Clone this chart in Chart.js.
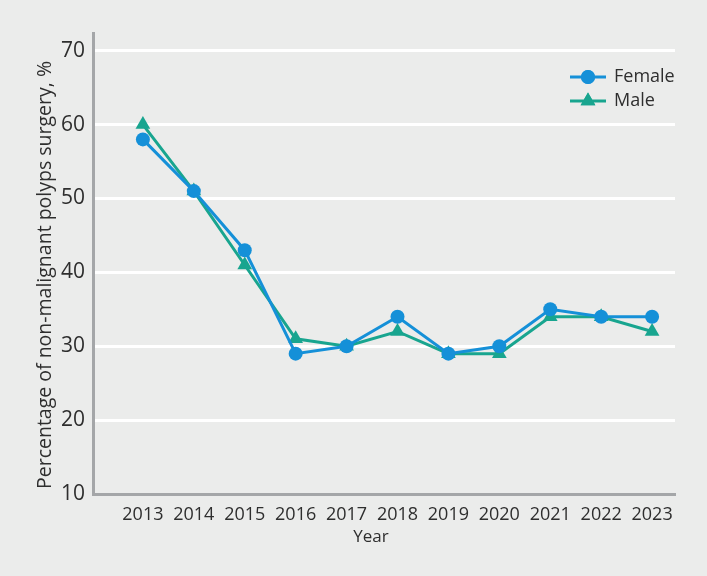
<!DOCTYPE html>
<html>
<head>
<meta charset="utf-8">
<script src="https://cdn.jsdelivr.net/npm/chart.js@4"></script>
<style>
  body { margin: 0; background: #ebeceb; }
  #wrap { width: 707px; height: 576px; position: relative; }
</style>
</head>
<body>
<div id="wrap"><canvas id="myChart"></canvas></div>
<script>
const years = [2013, 2014, 2015, 2016, 2017, 2018, 2019, 2020, 2021, 2022, 2023];
const female = [58, 51, 43, 29, 30, 34, 29, 30, 35, 34, 34];
const male = [60, 51, 41, 31, 30, 32, 29, 29, 34, 34, 32];
const yTicks = [10, 20, 30, 40, 50, 60, 70];
const xTitle = "Year";
const yTitle = "Percentage of non-malignant polyps surgery, %";

const blueColor = "#1590d8";
const tealColor = "#18a58f";
const axisColor = "#a4a6a8";
const textColor = "#2e2e2e";
const fontFamily = "'Open Sans', 'Noto Sans', sans-serif";

// legend drawn inside the plot, line + marker like the original
const insideLegend = {
  id: "insideLegend",
  afterDraw(chart) {
    const ctx = chart.ctx;
    const items = [
      { label: "Female", color: blueColor, style: "circle", y: 77 },
      { label: "Male", color: tealColor, style: "triangle", y: 101 },
    ];
    ctx.save();
    items.forEach((item) => {
      ctx.strokeStyle = item.color;
      ctx.lineWidth = 3;
      ctx.beginPath();
      ctx.moveTo(570, item.y);
      ctx.lineTo(606, item.y);
      ctx.stroke();
      ctx.fillStyle = item.color;
      Chart.helpers.drawPoint(ctx, {
        pointStyle: item.style,
        radius: item.style === "circle" ? 7 : 8.5,
        borderWidth: 0,
      }, 588, item.y);
      ctx.fill();
      ctx.fillStyle = textColor;
      ctx.font = "18px " + fontFamily;
      ctx.textBaseline = "middle";
      ctx.fillText(item.label, 614, item.y);
    });
    ctx.restore();
  },
};

// axis titles, placed where the original has them (not centred on the axes)
const axisTitles = {
  id: "axisTitles",
  afterDraw(chart) {
    const ctx = chart.ctx;
    ctx.save();
    ctx.fillStyle = textColor;
    ctx.textAlign = "center";
    ctx.textBaseline = "middle";
    ctx.font = "17px " + fontFamily;
    ctx.fillText(xTitle, 371, 537);
    ctx.translate(45, 275);
    ctx.rotate(-Math.PI / 2);
    ctx.font = "19.5px " + fontFamily;
    ctx.fillText(yTitle, 0, 0);
    ctx.restore();
  },
};

const ctx = document.getElementById("myChart");
new Chart(ctx, {
  type: "line",
  data: {
    datasets: [
      {
        label: "Female",
        data: years.map((y, i) => ({ x: y, y: female[i] })),
        borderColor: blueColor,
        backgroundColor: blueColor,
        borderWidth: 3,
        pointStyle: "circle",
        pointRadius: 7,
        pointBorderWidth: 0,
      },
      {
        label: "Male",
        data: years.map((y, i) => ({ x: y, y: male[i] })),
        borderColor: tealColor,
        backgroundColor: tealColor,
        borderWidth: 3,
        pointStyle: "triangle",
        pointRadius: 8.5,
        pointBorderWidth: 0,
      },
    ],
  },
  options: {
    responsive: true,
    maintainAspectRatio: false,
    animation: false,
    layout: { padding: { top: 33, right: 32, left: 0, bottom: 0 } },
    plugins: {
      legend: { display: false },
      tooltip: { enabled: false },
    },
    scales: {
      x: {
        type: "linear",
        min: 2012.02,
        max: 2023.45,
        afterBuildTicks: (scale) => {
          scale.ticks = years.map((v) => ({ value: v }));
        },
        afterFit: (scale) => {
          scale.height = 82;
        },
        ticks: {
          color: textColor,
          font: { family: fontFamily, size: 18 },
          padding: 10,
          maxRotation: 0,
          autoSkip: false,
          callback: (value) => String(value),
        },
        grid: { display: false, drawTicks: false },
        border: { color: axisColor, width: 3 },
      },
      y: {
        min: 10,
        max: 72.4,
        afterBuildTicks: (scale) => {
          scale.ticks = yTicks.map((v) => ({ value: v }));
        },
        afterFit: (scale) => {
          scale.width = 93;
        },
        ticks: {
          color: textColor,
          font: { family: fontFamily, size: 21 },
          padding: 8,
        },
        grid: { color: "#ffffff", lineWidth: 3, drawTicks: false },
        border: { color: axisColor, width: 3 },
      },
    },
  },
  plugins: [insideLegend, axisTitles],
});
</script>
</body>
</html>
